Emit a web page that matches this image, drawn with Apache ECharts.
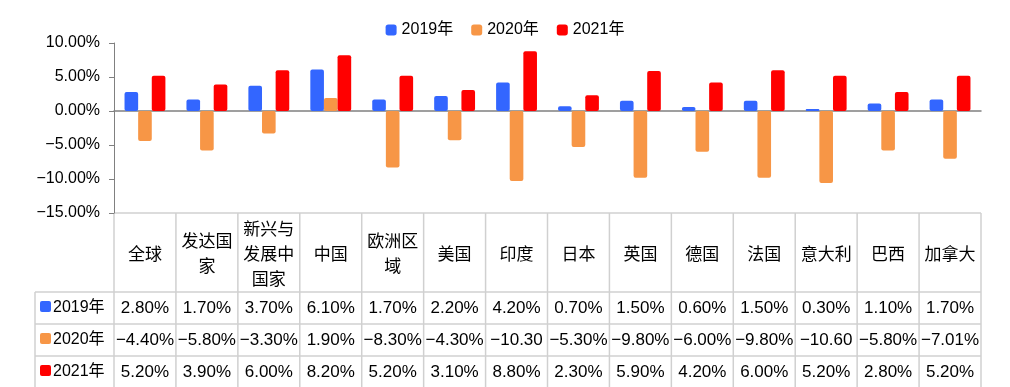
<!DOCTYPE html>
<html><head><meta charset="utf-8">
<script src="https://cdn.jsdelivr.net/npm/echarts@6/dist/echarts.min.js"></script>
<style>html,body{margin:0;padding:0;background:#fff}#c{width:1010px;height:387px}</style>
</head><body><div id="c"></div>
<script>
const categories = ['全球','发达国家','新兴与发展中国家','中国','欧洲区域','美国','印度','日本','英国','德国','法国','意大利','巴西','加拿大'];
const seriesNames = ['2019年','2020年','2021年'];
const v2019 = [2.8, 1.7, 3.7, 6.1, 1.7, 2.2, 4.2, 0.7, 1.5, 0.6, 1.5, 0.3, 1.1, 1.7];
const v2020 = [-4.4, -5.8, -3.3, 1.9, -8.3, -4.3, -10.3, -5.3, -9.8, -6.0, -9.8, -10.6, -5.8, -7.01];
const v2021 = [5.2, 3.9, 6.0, 8.2, 5.2, 3.1, 8.8, 2.3, 5.9, 4.2, 6.0, 5.2, 2.8, 5.2];
const colors = ['#3366FF', '#F79646', '#FF0000'];

const values = [v2019, v2020, v2021];
const numFont = '"Liberation Sans", "Noto Sans CJK SC", sans-serif';
const cjkFont = '"Noto Sans CJK SC", sans-serif';
const fmt = v => v.toFixed(2).replace('-', '\u2212') + '%';

const chart = echarts.init(document.getElementById('c'), null, {renderer: 'canvas'});
chart.setOption({
  animation: false,
  legend: {
    top: 17, left: 'center', itemWidth: 11, itemHeight: 11, itemGap: 18, icon: 'roundRect',
    textStyle: {fontSize: 16, color: '#000', fontFamily: numFont}
  },
  grid: {left: 114, right: 29, top: 43, bottom: 174},
  xAxis: {
    type: 'category', data: categories,
    axisLine: {onZero: true, lineStyle: {color: '#808080', width: 1.5}},
    axisTick: {show: false}, axisLabel: {show: false}
  },
  yAxis: {
    type: 'value', min: -15, max: 10, interval: 5,
    axisLine: {show: true, lineStyle: {color: '#808080'}},
    axisTick: {show: true, length: 5, lineStyle: {color: '#808080'}},
    splitLine: {show: false},
    axisLabel: {formatter: fmt, fontSize: 16, color: '#000', margin: 14, fontFamily: numFont}
  },
  series: values.map((d, i) => ({
    name: seriesNames[i], type: 'bar', data: d,
    barGap: '0%', barCategoryGap: '34%',
    itemStyle: {color: colors[i], borderRadius: 2}
  }))
});

// data table beneath the plot
(function () {
  const n = categories.length;
  const c0 = chart.convertToPixel({xAxisIndex: 0}, categories[0]);
  const c1 = chart.convertToPixel({xAxisIndex: 0}, categories[1]);
  const bw = c1 - c0;
  const tLeft = c0 - bw / 2;
  const tRight = tLeft + bw * n;
  const tTop = chart.convertToPixel({yAxisIndex: 0}, -15);
  const headH = 79, rowH = 32, labelLeft = 35;
  const tBottom = tTop + headH + rowH * 3 + 4;
  const lineStyle = {stroke: '#d0d0d0', lineWidth: 1.5};
  const g = [];
  g.push({type: 'line', shape: {x1: tLeft, y1: tTop, x2: tRight, y2: tTop}, style: lineStyle});
  for (let r = 0; r <= 3; r++) {
    const y = tTop + headH + rowH * r;
    g.push({type: 'line', shape: {x1: labelLeft, y1: y, x2: tRight, y2: y}, style: lineStyle});
  }
  for (let k = 0; k <= n; k++) {
    const x = tLeft + bw * k;
    g.push({type: 'line', shape: {x1: x, y1: tTop, x2: x, y2: tBottom}, style: lineStyle});
  }
  g.push({type: 'line', shape: {x1: labelLeft, y1: tTop + headH, x2: labelLeft, y2: tBottom}, style: lineStyle});
  const chunk = s => { const out = []; for (let i = 0; i < s.length; i += 3) out.push(s.slice(i, i + 3)); return out.join('\n'); };
  categories.forEach((c, i) => {
    const cx = chart.convertToPixel({xAxisIndex: 0}, c);
    g.push({type: 'text', x: cx, y: tTop + headH / 2 + 1, style: {
      text: chunk(c), align: 'center', verticalAlign: 'middle', lineHeight: 25,
      font: '17px ' + cjkFont, fill: '#000'
    }});
  });
  values.forEach((d, r) => {
    const cy = tTop + headH + rowH * r + rowH / 2;
    g.push({type: 'rect', shape: {x: labelLeft + 5, y: cy - 7, width: 11, height: 11, r: 2}, style: {fill: colors[r]}});
    g.push({type: 'text', x: labelLeft + 18, y: cy, style: {
      text: seriesNames[r], align: 'left', verticalAlign: 'middle', font: '16px ' + numFont, fill: '#000'
    }});
    d.forEach((v, i) => {
      const cx = chart.convertToPixel({xAxisIndex: 0}, categories[i]);
      g.push({type: 'text', x: cx, y: cy, style: {
        text: fmt(v), align: 'center', verticalAlign: 'middle', font: '17px ' + numFont, fill: '#000',
        width: bw - 2, overflow: 'truncate', ellipsis: ''
      }});
    });
  });
  chart.setOption({graphic: g});
})();
</script>
</body></html>
